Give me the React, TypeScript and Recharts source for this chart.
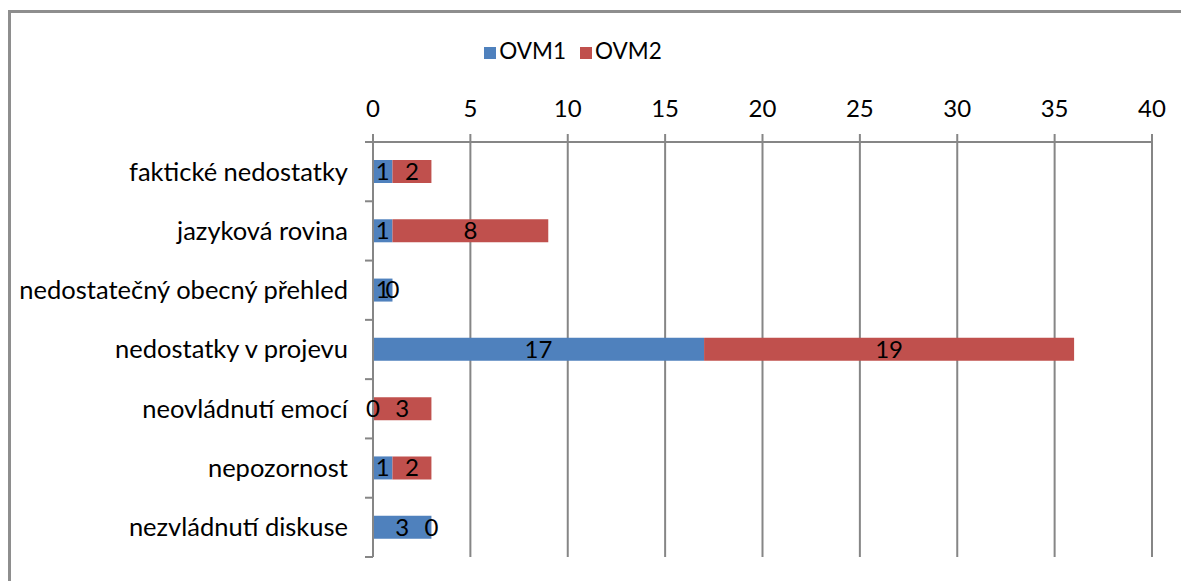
import React from "react";
import { BarChart, Bar, XAxis, YAxis, CartesianGrid, LabelList } from "recharts";

// ── Data ─────────────────────────────────────────────────────────────────────

const categories = [
  "faktické nedostatky",
  "jazyková rovina",
  "nedostatečný obecný přehled",
  "nedostatky v projevu",
  "neovládnutí emocí",
  "nepozornost",
  "nezvládnutí diskuse",
];
const ovm1 = [1, 1, 1, 17, 0, 1, 3];
const ovm2 = [2, 8, 0, 19, 3, 2, 0];
const xTicks = [0, 5, 10, 15, 20, 25, 30, 35, 40];

const data = categories.map((name, i) => ({ name, ovm1: ovm1[i], ovm2: ovm2[i] }));

// ── Layout ───────────────────────────────────────────────────────────────────

const W = 1181;
const H = 581;
const MARGIN = { top: 102, right: 29, bottom: 24, left: 0 };
const X_AXIS_H = 40;
const Y_AXIS_W = 373;
const PLOT_H = H - MARGIN.top - MARGIN.bottom - X_AXIS_H;
const BAND = PLOT_H / categories.length;

const BLUE = "#4F81BD";
const RED = "#C0504D";
const GRID = "#868686";
const FONT = "Lato, 'Open Sans', sans-serif";

const CategoryTick = (props: any) => {
  const { x, y, payload, index } = props;
  const axisX = x + 25;
  const isLast = index === categories.length - 1;
  return (
    <g>
      <text x={x} y={y} dy="0.35em" textAnchor="end" fontSize={25.5} fill="#000" fontFamily={FONT}>
        {payload.value}
      </text>
      <line x1={axisX - 8} x2={axisX} y1={y - BAND / 2} y2={y - BAND / 2} stroke={GRID} strokeWidth={2} />
      {isLast && (
        <line x1={axisX - 8} x2={axisX} y1={y + BAND / 2} y2={y + BAND / 2} stroke={GRID} strokeWidth={2} />
      )}
    </g>
  );
};

// labels are drawn for zero-length segments too (Excel shows "0")
const ValueLabel = (props: any) => {
  const { x, y, width, height, value } = props;
  return (
    <text
      x={x + width / 2}
      y={y + height / 2}
      dy="0.35em"
      textAnchor="middle"
      fontSize={24}
      fill="#000"
      fontFamily={FONT}
    >
      {value}
    </text>
  );
};

function Legend() {
  const item = (color: string, label: string) => (
    <div style={{ display: "flex", alignItems: "center", marginRight: 14 }}>
      <div style={{ width: 12, height: 12, background: color, marginRight: 3, marginTop: 3 }} />
      <span style={{ fontSize: 22.5, color: "#000" }}>{label}</span>
    </div>
  );
  return (
    <div
      style={{
        position: "absolute",
        top: 36,
        left: 0,
        width: 1160,
        display: "flex",
        justifyContent: "center",
        fontFamily: FONT,
        lineHeight: "30px",
      }}
    >
      {item(BLUE, "OVM1")}
      {item(RED, "OVM2")}
    </div>
  );
}

export default function App() {
  return (
    <div style={{ position: "fixed", inset: 0, overflow: "hidden", background: "#fff" }}>
      {/* chart frame, cut off on the right and bottom */}
      <div
        style={{
          position: "absolute",
          left: 8,
          top: 10,
          width: 1300,
          height: 700,
          border: "3px solid #8e8e8e",
          boxSizing: "border-box",
        }}
      />
      <Legend />
      <div style={{ position: "absolute", left: 0, top: 0 }}>
        <BarChart
          width={W}
          height={H}
          data={data}
          layout="vertical"
          margin={MARGIN}
          style={{ fontFamily: FONT }}
        >
          <CartesianGrid horizontal={false} stroke={GRID} strokeWidth={2} />
          <XAxis
            type="number"
            orientation="top"
            domain={[0, 40]}
            ticks={xTicks}
            height={X_AXIS_H}
            axisLine={{ stroke: GRID, strokeWidth: 2 }}
            tickLine={{ stroke: GRID, strokeWidth: 2 }}
            tickSize={8}
            tickMargin={17}
            tick={{ fontSize: 24, fill: "#000" }}
            interval={0}
          />
          <YAxis
            type="category"
            dataKey="name"
            width={Y_AXIS_W}
            axisLine={{ stroke: GRID, strokeWidth: 2 }}
            tickLine={false}
            tickSize={0}
            tickMargin={25}
            tick={<CategoryTick />}
            interval={0}
          />
          <Bar
            dataKey="ovm1"
            name="OVM1"
            stackId="a"
            fill={BLUE}
            barSize={23}
            minPointSize={0.01}
            isAnimationActive={false}
          >
            <LabelList dataKey="ovm1" content={<ValueLabel />} />
          </Bar>
          <Bar
            dataKey="ovm2"
            name="OVM2"
            stackId="a"
            fill={RED}
            barSize={23}
            minPointSize={0.01}
            isAnimationActive={false}
          >
            <LabelList dataKey="ovm2" content={<ValueLabel />} />
          </Bar>
        </BarChart>
      </div>
    </div>
  );
}
